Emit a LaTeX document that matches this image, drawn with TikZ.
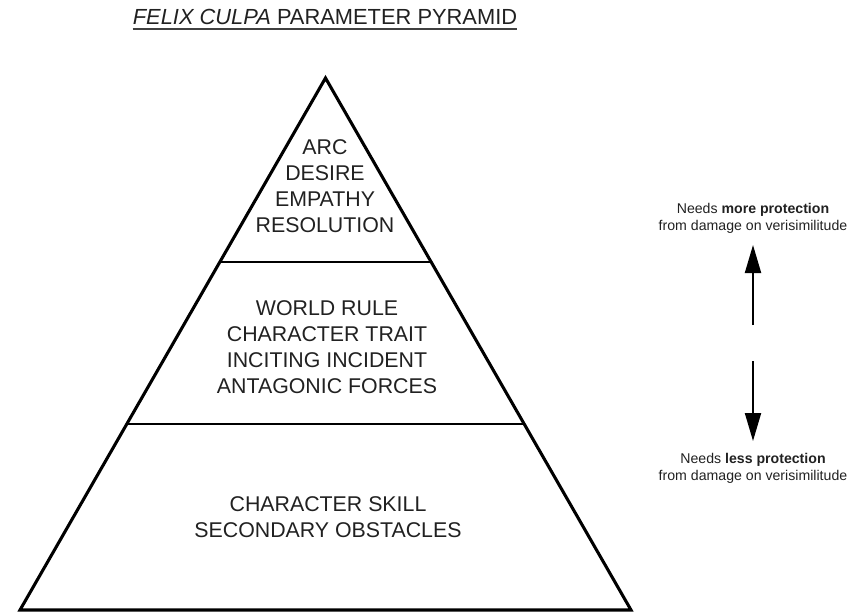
\documentclass[tikz,border=0pt]{standalone}
\usepackage{fontspec}
\setmainfont{Liberation Sans}
\usetikzlibrary{arrows.meta,calc}

\begin{document}
\begin{tikzpicture}[x=0.75pt,y=-0.75pt,
  tier/.style={align=center,text=black!87,font=\fontsize{16}{19.5}\selectfont,inner sep=0pt},
  note/.style={align=center,text=black!87,font=\fontsize{10.6}{12.75}\selectfont,inner sep=0pt},
  side/.style={line width=2.3pt,line join=miter},
  divider/.style={line width=1.8pt},
  vert/.style={line width=1.5pt,-{Triangle[length=21pt,width=12pt]}}]
\useasboundingbox (0,0) rectangle (853,613);

\def\tone{0.346}
\def\ttwo{0.650}

\coordinate (apex) at (325.5,78);
\coordinate (bl) at (20,610);
\coordinate (br) at (631,610);

\node[tier, anchor=base, font=\fontsize{16.4}{19.5}\selectfont] (title) at (325,25) {\textit{FELIX CULPA} PARAMETER PYRAMID};
\draw[line width=1.1pt, black!75] ([yshift=-3pt]title.base west) -- ([yshift=-3pt]title.base east);

\draw[side] (apex) -- (br) -- (bl) -- cycle;
\draw[divider] ($(apex)!\tone!(bl)$) -- ($(apex)!\tone!(br)$);
\draw[divider] ($(apex)!\ttwo!(bl)$) -- ($(apex)!\ttwo!(br)$);

\node[tier] (top) at (325,186) {ARC\\DESIRE\\EMPATHY\\RESOLUTION};
\node[tier] (middle) at (327,347.5) {WORLD RULE\\CHARACTER TRAIT\\INCITING INCIDENT\\ANTAGONIC FORCES};
\node[tier] (bottom) at (328,517) {CHARACTER SKILL\\SECONDARY OBSTACLES};

\node[note] (more) at (753,218) {Needs \textbf{more protection}\\from damage on verisimilitude};
\node[note] (less) at (753,468) {Needs \textbf{less protection}\\from damage on verisimilitude};

\coordinate (upfoot) at (753,325);
\coordinate (uptip) at (753,245);
\coordinate (downfoot) at (753,361);
\coordinate (downtip) at (753,441);
\draw[vert] (upfoot) -- (uptip);
\draw[vert] (downfoot) -- (downtip);
\end{tikzpicture}
\end{document}
